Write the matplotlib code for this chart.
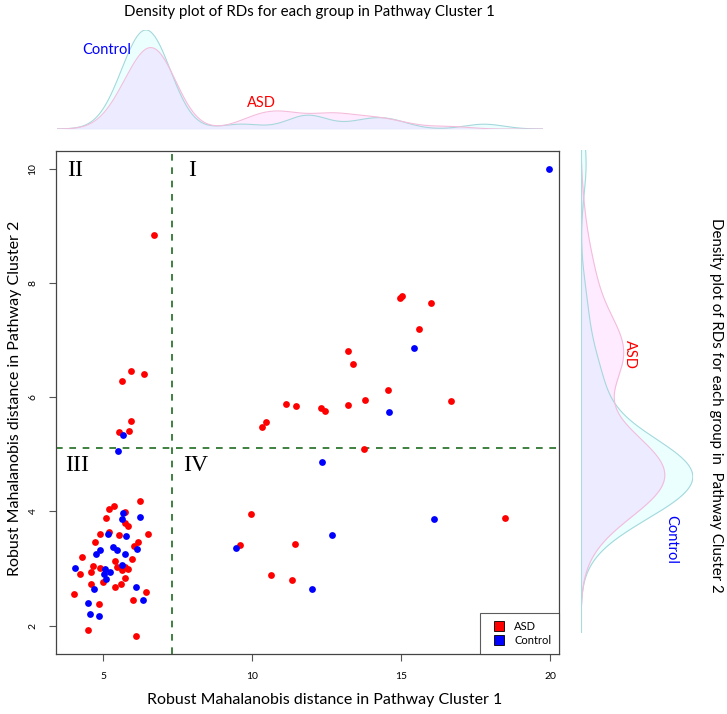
import numpy as np
import matplotlib
matplotlib.use("Agg")
import matplotlib.pyplot as plt
from matplotlib.lines import Line2D

# RD values (x = Pathway Cluster 1, y = Pathway Cluster 2)
asd_x = [6.71, 5.94, 6.39, 5.65, 5.95, 5.54, 5.87,
         14.97, 15.04, 16.0, 15.61, 13.23, 13.39, 14.57, 16.69, 11.13, 11.48, 12.30, 12.45,
         13.23, 13.78, 10.48, 10.34, 13.75,
         9.96, 18.49, 9.59, 11.43, 10.65, 11.33,
         6.25, 5.36, 5.20, 5.73, 5.09, 5.75, 5.84, 5.19, 4.91, 5.53, 6.50, 4.73, 6.16, 6.04,
         4.30, 5.96, 5.39, 4.66, 5.48, 4.90, 5.73, 5.65, 5.83, 4.21, 4.59, 5.72, 5.00, 4.61,
         5.60, 5.41, 4.04, 6.44, 4.88, 6.00, 4.51, 6.11]
asd_y = [8.85, 6.46, 6.41, 6.29, 5.58, 5.39, 5.41,
         7.74, 7.77, 7.65, 7.20, 6.81, 6.58, 6.13, 5.94, 5.89, 5.85, 5.82, 5.77,
         5.86, 5.96, 5.57, 5.48, 5.09,
         3.95, 3.88, 3.42, 3.43, 2.88, 2.80,
         4.18, 4.09, 4.04, 3.99, 3.89, 3.79, 3.74, 3.64, 3.60, 3.59, 3.60, 3.46, 3.47, 3.40,
         3.20, 3.16, 3.13, 3.05, 3.03, 3.01, 3.03, 2.97, 2.99, 2.91, 2.94, 2.83, 2.77, 2.73,
         2.73, 2.67, 2.56, 2.58, 2.37, 2.44, 1.93, 1.82]

ctrl_x = [5.66, 5.50,
          19.97, 15.45, 14.61,
          12.34, 16.11, 12.69, 9.47, 12.0,
          5.67, 6.24, 5.63, 5.16, 5.78, 5.35, 5.47, 6.14, 4.90, 4.75, 5.75, 5.63,
          4.06, 5.07, 5.22, 5.03, 5.11, 6.09, 4.69, 4.51, 6.34, 4.55, 4.87]
ctrl_y = [5.34, 5.06,
          10.0, 6.86, 5.75,
          4.86, 3.86, 3.58, 3.36, 2.64,
          3.98, 3.91, 3.86, 3.60, 3.57, 3.37, 3.33, 3.34, 3.32, 3.26, 3.25, 3.06,
          3.00, 2.99, 2.94, 2.91, 2.81, 2.67, 2.64, 2.40, 2.45, 2.20, 2.16]

cut_x = 7.32
cut_y = 5.105
quadrants = ["I", "II", "III", "IV"]

# smoothing bandwidths judged from the density panels
bw_x = 0.85
bw_y = 0.69
dens_y_top = 10.3   # right density panel is clipped here

RED = "#ff0000"
BLUE = "#0000ff"
label_font = ["Lato", "DejaVu Sans"]


def kde(v, grid, bw):
    v = np.asarray(v)
    z = (grid[:, None] - v[None, :]) / bw
    return np.exp(-0.5 * z ** 2).sum(axis=1) / (len(v) * bw * np.sqrt(2 * np.pi))


fig = plt.figure(figsize=(7.27, 7.14), dpi=100)

# ---- main scatter
ax = fig.add_axes([0.0766, 0.084, 0.6923, 0.7045])
ax.scatter(asd_x, asd_y, s=24, color=RED, zorder=3, linewidths=0)
ax.scatter(ctrl_x, ctrl_y, s=24, color=BLUE, zorder=3, linewidths=0)
ax.axvline(cut_x, color="#1e6b1e", ls=(0, (4, 4)), lw=1.2)
ax.axhline(cut_y, color="#1e6b1e", ls=(0, (4, 4)), lw=1.2)
ax.set_xlim(3.41, 20.3)
ax.set_ylim(1.5, 10.32)
ax.set_xticks([5, 10, 15, 20])
ax.set_yticks([2, 4, 6, 8, 10])
ax.tick_params(direction="out", length=5, width=0.8, color="#555555", labelsize=7.5)
ax.tick_params(axis="x", pad=8)
ax.tick_params(axis="y", pad=8)
for lbl in ax.get_yticklabels():
    lbl.set_rotation(90)
    lbl.set_va("center")
for lbl in ax.get_xticklabels() + ax.get_yticklabels():
    lbl.set_family(label_font)
for sp in ax.spines.values():
    sp.set_color("#444444")
    sp.set_linewidth(0.9)

qpos = {"I": (8.0, 9.98), "II": (4.06, 9.98), "III": (4.12, 4.8), "IV": (8.1, 4.8)}
for q in quadrants:
    ax.text(*qpos[q], q, fontsize=17, family=["Liberation Serif", "DejaVu Serif"],
            ha="center", va="center")

handles = [Line2D([], [], marker="s", ls="", markersize=7, markerfacecolor=RED, markeredgecolor="black", markeredgewidth=0.6),
           Line2D([], [], marker="s", ls="", markersize=7, markerfacecolor=BLUE, markeredgecolor="black", markeredgewidth=0.6)]
leg = ax.legend(handles, ["ASD", "Control"], loc="lower right", borderaxespad=0, fancybox=False,
                edgecolor="#333333", handletextpad=0.4, borderpad=0.7, labelspacing=0.3,
                prop={"family": label_font, "size": 8})
leg.get_frame().set_linewidth(0.8)

# axis labels
fig.text(0.446, 0.0196, "Robust Mahalanobis distance in Pathway Cluster 1",
         fontsize=11.5, family=label_font, ha="center", va="center")
fig.text(0.0206, 0.4426, "Robust Mahalanobis distance in Pathway Cluster 2",
         fontsize=11.5, family=label_font, ha="center", va="center", rotation=90)

# ---- top density (cluster 1)
gx = np.linspace(min(asd_x + ctrl_x) - 3 * bw_x, max(asd_x + ctrl_x) + 3 * bw_x, 512)
dx_asd = kde(asd_x, gx, bw_x)
dx_ctrl = kde(ctrl_x, gx, bw_x)
axt = fig.add_axes([0.0784, 0.8193, 0.6685, 0.1387])
axt.fill_between(gx, dx_ctrl, color="cyan", alpha=0.08, lw=0)
axt.fill_between(gx, dx_asd, color="magenta", alpha=0.08, lw=0)
axt.plot(gx, dx_ctrl, color="#a4d8dc", lw=0.8)
axt.plot(gx, dx_asd, color="#f4bcdc", lw=0.8)
axt.axhline(0, color="#a8dce0", lw=0.8)
axt.set_xlim(gx[0], gx[-1])
axt.set_ylim(0, max(dx_asd.max(), dx_ctrl.max()))
axt.axis("off")

# ---- right density (cluster 2)
gy = np.linspace(min(asd_y + ctrl_y) - 3 * bw_y, max(asd_y + ctrl_y) + 3 * bw_y, 512)
dy_asd = kde(asd_y, gy, bw_y)
dy_ctrl = kde(ctrl_y, gy, bw_y)
axr = fig.add_axes([0.799, 0.1134, 0.154, 0.6765])
axr.fill_betweenx(gy, dy_ctrl, color="cyan", alpha=0.08, lw=0)
axr.fill_betweenx(gy, dy_asd, color="magenta", alpha=0.08, lw=0)
axr.plot(dy_ctrl, gy, color="#a4d8dc", lw=0.8)
axr.plot(dy_asd, gy, color="#f4bcdc", lw=0.8)
axr.axvline(0, color="#a8dce0", lw=0.8)
axr.set_ylim(gy[0], dens_y_top)
axr.set_xlim(0, max(dy_asd.max(), dy_ctrl.max()))
axr.axis("off")

# titles and group labels
fig.text(0.426, 0.983, "Density plot of RDs for each group in Pathway Cluster 1",
         fontsize=10.8, family=label_font, ha="center", va="center")
fig.text(0.985, 0.433, "Density plot of RDs for each group in  Pathway Cluster 2",
         fontsize=10.8, family=label_font, ha="center", va="center", rotation=-90)
fig.text(0.147, 0.93, "Control", color=BLUE, fontsize=10.5, family=label_font, ha="center", va="center")
fig.text(0.360, 0.856, "ASD", color=RED, fontsize=10.5, family=label_font, ha="center", va="center")
fig.text(0.867, 0.503, "ASD", color=RED, fontsize=10.5, family=label_font, ha="center", va="center", rotation=-90)
fig.text(0.923, 0.244, "Control", color=BLUE, fontsize=10.5, family=label_font, ha="center", va="center", rotation=-90)

fig.savefig("out.png", dpi=100, facecolor="white")
